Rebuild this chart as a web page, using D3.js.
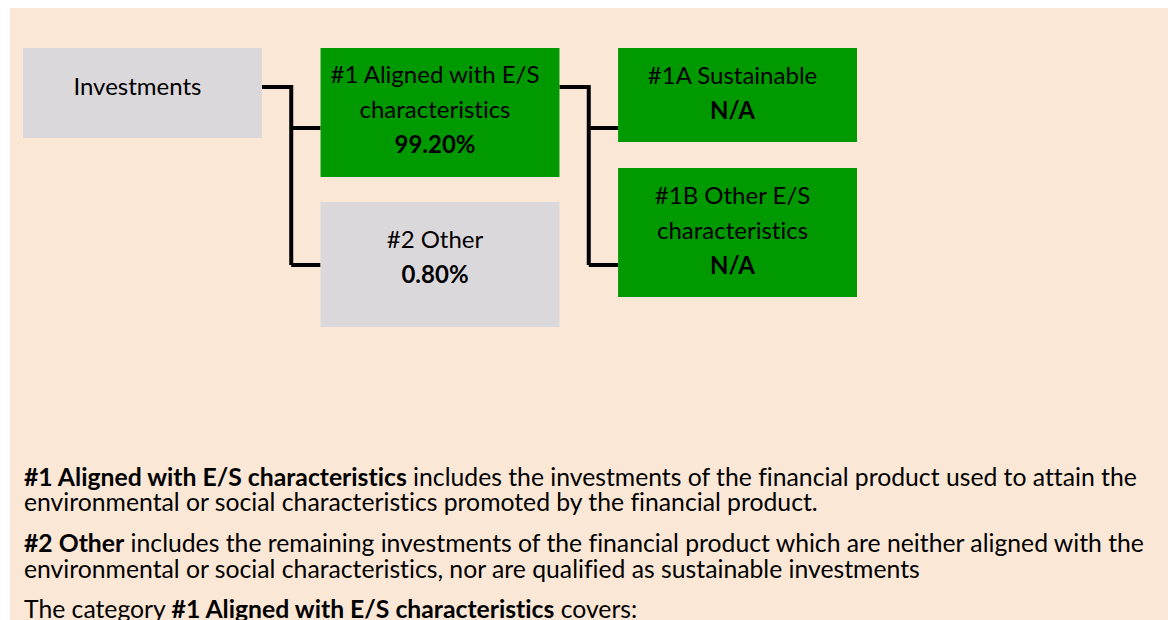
<!DOCTYPE html>
<html>
<head>
<meta charset="utf-8">
<script src="https://cdn.jsdelivr.net/npm/d3@7"></script>
<style>
  html, body { margin: 0; padding: 0; background: #ffffff; }
  svg { display: block; }
  text { font-family: Lato, "Noto Sans", sans-serif; fill: #000; font-variant-ligatures: none; font-feature-settings: "liga" 0, "clig" 0; }
</style>
</head>
<body>
<svg id="chart" width="1173" height="620"></svg>
<script>
// ---------- data ----------
const nodeIds    = ["inv", "al", "oth", "sus", "oes"];
const nodeLabels = [["Investments"], ["#1 Aligned with E/S", "characteristics"], ["#2 Other"], ["#1A Sustainable"], ["#1B Other E/S", "characteristics"]];
const nodeShares = ["", "99.20%", "0.80%", "N/A", "N/A"];
const nodeLevel  = [0, 1, 1, 2, 2];
const nodeParent = [-1, 0, 0, 1, 1];
const nodeKind   = ["neutral", "aligned", "neutral", "aligned", "aligned"];

const notes = [
  [{b: true, t: "#1 Aligned with E/S characteristics"}, {b: false, t: " includes the investments of the financial product used to attain the"}],
  [{b: false, t: "environmental or social characteristics promoted by the financial product."}],
  [{b: true, t: "#2 Other"}, {b: false, t: " includes the remaining investments of the financial product which are neither aligned with the"}],
  [{b: false, t: "environmental or social characteristics, nor are qualified as sustainable investments"}],
  [{b: false, t: "The category "}, {b: true, t: "#1 Aligned with E/S characteristics"}, {b: false, t: " covers:"}]
];

// ---------- layout / style ----------
const W = 1173, H = 620;
const colors = { neutral: "#dbd8dc", aligned: "#009900", bg: "#fae7d5", line: "#000000" };
const boxTop  = [48, 48, 202, 48, 168];
const boxH    = [90, 129, 125, 94, 129];
const firstBase = [47, 35, 46, 36, 36];
const lineStep = 35;
const parentAnchorY = 87;
const childAnchorY = { al: 128, oth: 265, sus: 128, oes: 265 };
const noteBaselines = [486, 511, 552, 578, 618];

const svg = d3.select("#chart");

svg.append("rect").attr("x", 10).attr("y", 8).attr("width", 1158).attr("height", H - 8).attr("fill", colors.bg);

const x = d3.scaleBand().domain([0, 1, 2]).range([23, 857]).paddingInner(0.197);

// measure fonts to approximate Calibri metrics
function measure(str, size, bold) {
  const t = svg.append("text").attr("font-size", size).attr("font-weight", bold ? "bold" : "normal").text(str);
  const w = t.node().getComputedTextLength();
  t.remove();
  return w;
}
const boxFont = 22 * 209 / measure("#1 Aligned with E/S", 22, false);

// connectors
const links = svg.append("g").attr("fill", "none").attr("stroke", colors.line).attr("stroke-width", 4);
[0, 1].forEach(p => {
  const kids = d3.range(nodeIds.length).filter(i => nodeParent[i] === p);
  const px = x(nodeLevel[p]) + x.bandwidth();
  const cx = x(nodeLevel[kids[0]]);
  const mx = (px + cx) / 2;
  const ys = kids.map(k => childAnchorY[nodeIds[k]]);
  links.append("path").attr("d", `M${px},${parentAnchorY}H${mx}V${d3.max(ys)}`);
  kids.forEach(k => {
    links.append("path").attr("d", `M${mx},${childAnchorY[nodeIds[k]]}H${cx}`);
  });
});

// boxes
const g = svg.append("g");
d3.range(nodeIds.length).forEach(i => {
  const bx = x(nodeLevel[i]);
  g.append("rect")
    .attr("x", bx).attr("y", boxTop[i])
    .attr("width", x.bandwidth()).attr("height", boxH[i])
    .attr("fill", colors[nodeKind[i]]);
  const lines = nodeLabels[i].map(t => ({t, b: false}));
  if (nodeShares[i]) lines.push({t: nodeShares[i], b: true});
  const cxText = bx + x.bandwidth() / 2 - 5;
  lines.forEach((ln, j) => {
    g.append("text")
      .attr("x", cxText)
      .attr("y", boxTop[i] + firstBase[i] + j * lineStep)
      .attr("text-anchor", "middle")
      .attr("font-size", boxFont)
      .attr("font-weight", ln.b ? "bold" : "normal")
      .text(ln.t);
  });
});

// notes
const noteG = svg.append("g");
const noteTexts = notes.map((parts, i) => {
  const t = noteG.append("text").attr("x", 24).attr("y", noteBaselines[i]).attr("font-size", 22);
  parts.forEach(p => t.append("tspan").attr("font-weight", p.b ? "bold" : "normal").text(p.t));
  return t;
});
const noteFont = 22 * 1113 / noteTexts[0].node().getComputedTextLength();
noteTexts.forEach(t => t.attr("font-size", noteFont));
</script>
</body>
</html>
